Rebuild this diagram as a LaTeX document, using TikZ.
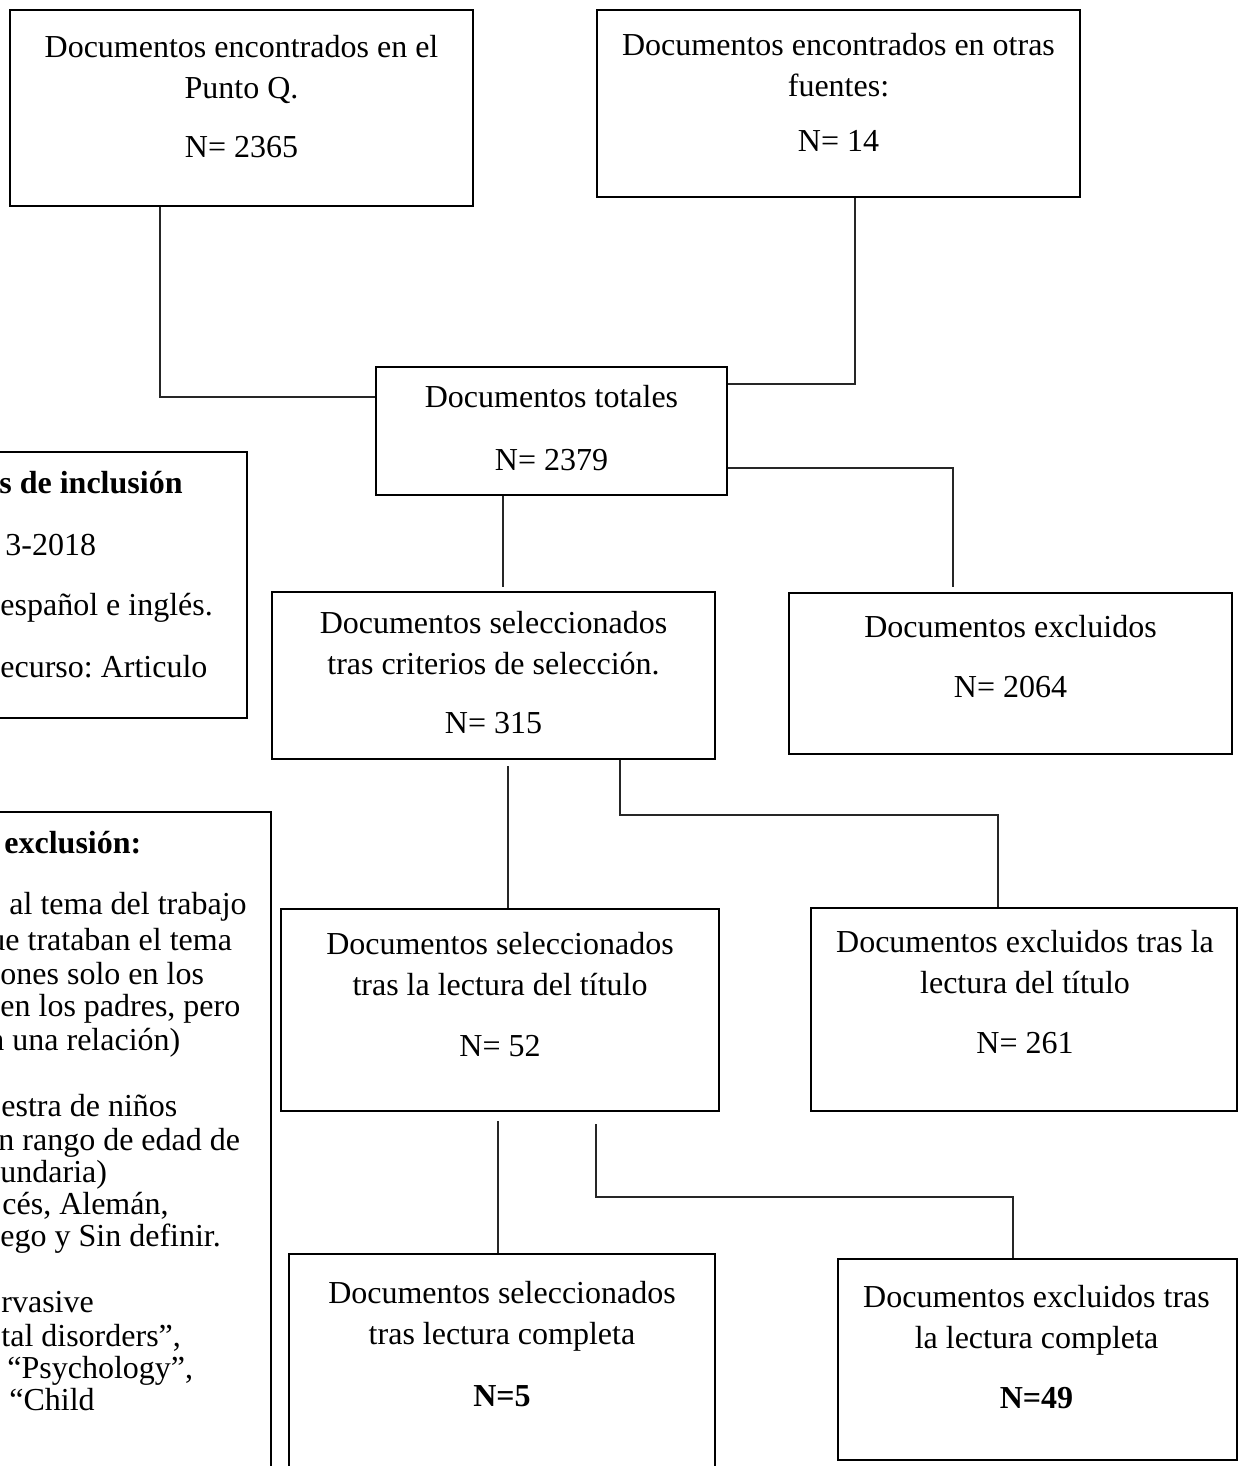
\documentclass[tikz,border=0pt]{standalone}
\usepackage{fontspec}
\setmainfont{Liberation Serif}
\usetikzlibrary{fit}
\frenchspacing
\tikzset{
  box/.style={draw=black, line width=1pt, inner sep=0pt, rectangle},
  conn/.style={draw=black!85, line width=0.6pt},
  txt/.style={align=center, anchor=base, inner sep=0pt, font=\fontsize{16}{20.5}\selectfont\frenchspacing},
  lt/.style={anchor=base west, inner sep=0pt, font=\fontsize{16}{20.5}\selectfont\frenchspacing},
}
\begin{document}
\begin{tikzpicture}[x=0.5pt, y=-0.5pt]
\useasboundingbox (0,0) rectangle (1243,1466);
\clip (0,0) rectangle (1243,1466);
\fill[white] (0,0) rectangle (1243,1466);

% boxes
\node[box, fit={(10,10) (473,206)}] (b1) {};
\node[box, fit={(597,10) (1080,197)}] (b2) {};
\node[box, fit={(376,367) (727,495)}] (b3) {};
\node[box, fit={(-20,452) (247,718)}] (inc) {};
\node[box, fit={(272,592) (715,759)}] (b4) {};
\node[box, fit={(789,593) (1232,754)}] (b5) {};
\node[box, fit={(-20,812) (271,1500)}] (exc) {};
\node[box, fit={(281,909) (719,1111)}] (b6) {};
\node[box, fit={(811,908) (1237,1111)}] (b7) {};
\node[box, fit={(289,1254) (715,1500)}] (b8) {};
\node[box, fit={(838,1259) (1237,1460)}] (b9) {};

% box texts (anchored at the baseline of the last line)
\node[txt] (t1) at (241.5,158) {Documentos encontrados en el\\ Punto Q.\\[9pt] N= 2365};
\node[txt] (t2) at (838.5,152) {Documentos encontrados en otras\\ fuentes:\\[7pt] N= 14};
\node[txt] (t3) at (551.5,470) {Documentos totales\\[11pt] N= 2379};
\node[txt] (t4) at (493.5,733) {Documentos seleccionados\\ tras criterios de selección.\\[9pt] N= 315};
\node[txt] (t5) at (1010.5,697) {Documentos excluidos\\[9.5pt] N= 2064};
\node[txt] (t6) at (500,1056) {Documentos seleccionados\\ tras la lectura del título\\[10pt] N= 52};
\node[txt] (t7) at (1025,1053) {Documentos excluidos tras la\\ lectura del título\\[9.5pt] N= 261};
\node[txt] (t8) at (502,1406) {Documentos seleccionados\\ tras lectura completa\\[10.5pt] \textbf{N=5}};
\node[txt] (t9) at (1036.5,1408) {Documentos excluidos tras\\ la lectura completa\\[9.5pt] \textbf{N=49}};

% inclusion criteria (cut at left edge)
\node[lt] (i1) at (-1,493) {\textbf{s de inclusión}};
\node[lt] (i2) at (5,555) {3-2018};
\node[lt] (i3) at (0,615) {español e inglés.};
\node[lt] (i4) at (0,677) {ecurso: Articulo};

% exclusion criteria (cut at left edge)
\node[lt] (e1) at (4,853) {\textbf{exclusión:}};
\node[lt] (e2) at (9,914) {al tema del trabajo};
\node[lt] (e3) at (-11,950) {ue trataban el tema};
\node[lt] (e4) at (0,984) {ones solo en los};
\node[lt] (e5) at (0,1016) {en los padres, pero};
\node[lt] (e6) at (-12,1050) {n una relación)};
\node[lt] (e7) at (1,1116) {estra de niños};
\node[lt] (e8) at (-2,1150) {n rango de edad de};
\node[lt] (e9) at (0,1182) {undaria)};
\node[lt] (e10) at (2,1214) {cés, Alemán,};
\node[lt] (e11) at (0,1246) {ego y Sin definir.};
\node[lt] (e12) at (1,1312) {rvasive};
\node[lt] (e13) at (1,1346) {tal disorders”,};
\node[lt] (e14) at (7,1378) {“Psychology”,};
\node[lt] (e15) at (9,1410) {“Child};

% bend coordinates
\coordinate (k1) at (160,397);
\coordinate (k2) at (855,384);
\coordinate (k3) at (953,468);
\coordinate (k4) at (503,0);
\coordinate (k5) at (508,0);
\coordinate (k6) at (620,815);
\coordinate (k7) at (998,815);
\coordinate (k8) at (498,0);
\coordinate (k9) at (596,1197);
\coordinate (k10) at (1013,1197);

% connectors
\draw[conn] (b1.south -| k1) |- (b3.west |- k1);
\draw[conn] (b2.south -| k2) |- (b3.east |- k2);
\draw[conn, shorten >=2.5pt] (b3.east |- k3) -| (b5.north -| k3);
\draw[conn, shorten >=2pt] (b3.south -| k4) -- (b4.north -| k4);
\draw[conn, shorten <=3pt] (b4.south -| k5) -- (b6.north -| k5);
\draw[conn] (b4.south -| k6) -- (k6) -- (k7) -- (b7.north -| k7);
\draw[conn, shorten <=4.5pt] (b6.south -| k8) -- (b8.north -| k8);
\draw[conn, shorten <=6pt] (b6.south -| k9) -- (k9) -- (k10) -- (b9.north -| k10);
\end{tikzpicture}
\end{document}
